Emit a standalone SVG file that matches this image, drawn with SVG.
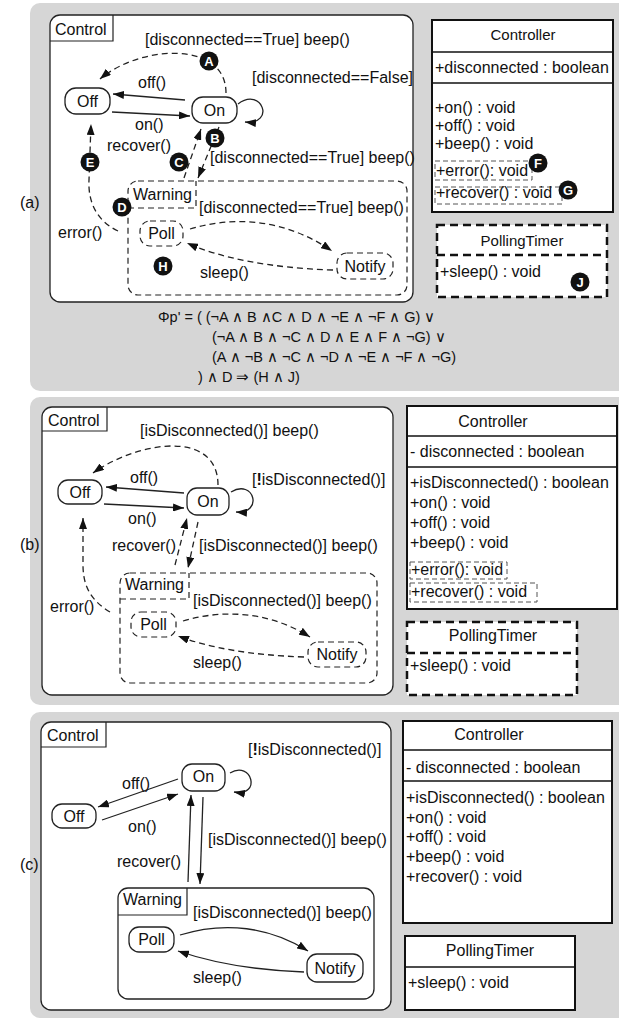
<svg xmlns="http://www.w3.org/2000/svg" width="619" height="1022" viewBox="0 0 619 1022">
<style>
.pnl{fill:#d6d6d6}
.box{fill:#fff;stroke:#222;stroke-width:1.3}
.tab{fill:none;stroke:#222;stroke-width:1.2}
.dtab{fill:none;stroke:#222;stroke-width:1.2;stroke-dasharray:6,4}
.st{fill:#fff;stroke:#222;stroke-width:1.3}
.dst{fill:#fff;stroke:#222;stroke-width:1.2;stroke-dasharray:6,4}
.cls{fill:#fff;stroke:#111;stroke-width:2}
.dcls{fill:#fff;stroke:#111;stroke-width:2.5;stroke-dasharray:8,5}
.cl{stroke:#111;stroke-width:1.5}
.dcl{stroke:#111;stroke-width:2.5;stroke-dasharray:8,5}
.mb{fill:none;stroke:#555;stroke-width:1;stroke-dasharray:5,3}
.e{fill:none;stroke:#222;stroke-width:1.3;marker-end:url(#ah)}
.de{fill:none;stroke:#222;stroke-width:1.3;stroke-dasharray:6,4;marker-end:url(#ah)}
text{font-family:"Liberation Sans",Arial,Helvetica,sans-serif;font-size:16px;fill:#111}
.m{text-anchor:middle}
.t{font-size:15px}
.f{font-size:14.5px}
.dot{fill:#111}
.lt{fill:#fff;font-weight:bold;font-size:13px;text-anchor:middle}
</style>
<defs>
<marker id="ah" markerUnits="userSpaceOnUse" markerWidth="11" markerHeight="8" refX="11" refY="4" orient="auto">
<path d="M0,0 L11,4 L0,8 z" fill="#111"/>
</marker>
</defs>

<!-- ================= PANEL (a) ================= -->
<g id="panel-a">
<rect class="pnl" x="30" y="3" width="600" height="388" rx="10"/>
<text x="20" y="208">(a)</text>
</g>
<g id="control-a">
<rect class="box" x="50" y="15" width="363" height="287" rx="10"/>
<path class="tab" d="M50,41 H113 V15"/>
<text x="55" y="35">Control</text>
</g>
<g id="warning-a">
<rect class="dst" x="128" y="181" width="279" height="114" rx="10"/>
<path class="dtab" d="M128,208 H196 V181"/>
<text x="133" y="200">Warning</text>
</g>
<g id="off-a"><rect class="st" x="65" y="88" width="45" height="26" rx="11"/><text class="m" x="87.5" y="107">Off</text></g>
<g id="on-a"><rect class="st" x="192" y="97" width="45" height="26" rx="11"/><text class="m" x="214.5" y="116">On</text></g>
<g id="poll-a"><rect class="dst" x="140" y="221" width="43" height="25" rx="10"/><text class="m" x="161.5" y="239">Poll</text></g>
<g id="notify-a"><rect class="dst" x="337" y="253" width="56" height="26" rx="10"/><text class="m" x="365" y="272">Notify</text></g>
<g id="connectors-a">
<path class="e" d="M185,100 L113,94"/>
<path class="e" d="M112,112 L190,116"/>
<path class="e" d="M238,104 C262,86 276,125 245,122"/>
<path class="de" d="M226,93 C226,40 140,45 100,79"/>
<path class="de" d="M219,127 L198,178"/>
<path class="de" d="M184,178 L201,129"/>
<path class="de" d="M118,231 C95,220 88,200 89,180 L91,124"/>
<path class="de" d="M190,229 C240,214 290,222 332,251"/>
<path class="de" d="M333,270 C270,268 220,258 187,243"/>
</g>
<g id="labels-a">
<text x="145" y="45">[disconnected==True] beep()</text>
<text x="252" y="83">[disconnected==False]</text>
<text x="138" y="88">off()</text>
<text x="135" y="130">on()</text>
<text x="107" y="151">recover()</text>
<text x="210" y="163">[disconnected==True] beep()</text>
<text x="199" y="213">[disconnected==True] beep()</text>
<text x="58" y="238">error()</text>
<text x="200" y="278">sleep()</text>
</g>
<g id="controller-a">
<rect class="cls" x="432" y="20" width="181" height="192"/>
<line class="cl" x1="432" y1="52" x2="613" y2="52"/>
<line class="cl" x1="432" y1="83" x2="613" y2="83"/>
<text class="m t" x="523" y="40">Controller</text>
<text x="435" y="73">+disconnected : boolean</text>
<text x="435" y="113">+on() : void</text>
<text x="435" y="131">+off() : void</text>
<text x="435" y="149">+beep() : void</text>
<rect class="mb" x="435" y="161" width="97" height="19"/>
<text x="436" y="176">+error(): void</text>
<rect class="mb" x="435" y="187" width="127" height="17"/>
<text x="436" y="198">+recover() : void</text>
</g>
<g id="pollingtimer-a">
<rect class="dcls" x="437" y="225" width="170" height="72"/>
<line class="dcl" x1="437" y1="255" x2="607" y2="255"/>
<text class="m t" x="522" y="246">PollingTimer</text>
<text x="440" y="277">+sleep() : void</text>
</g>
<g id="markers-a">
<circle class="dot" cx="209" cy="61" r="9.5"/><text class="lt" x="209" y="65.5">A</text>
<circle class="dot" cx="215" cy="138" r="9.5"/><text class="lt" x="215" y="142.5">B</text>
<circle class="dot" cx="179" cy="162" r="9.5"/><text class="lt" x="179" y="166.5">C</text>
<circle class="dot" cx="122" cy="207" r="9.5"/><text class="lt" x="122" y="211.5">D</text>
<circle class="dot" cx="90" cy="162" r="9.5"/><text class="lt" x="90" y="166.5">E</text>
<circle class="dot" cx="538" cy="163" r="9.5"/><text class="lt" x="538" y="167.5">F</text>
<circle class="dot" cx="568" cy="190" r="9.5"/><text class="lt" x="568" y="194.5">G</text>
<circle class="dot" cx="163" cy="266" r="9.5"/><text class="lt" x="163" y="270.5">H</text>
<circle class="dot" cx="580" cy="282" r="9.5"/><text class="lt" x="580" y="286.5">J</text>
</g>
<g id="formula-a">
<text class="f" x="158" y="322">Φp' = ( (¬A ∧ B ∧C ∧ D ∧ ¬E ∧ ¬F ∧ G) ∨</text>
<text class="f" x="212" y="342">(¬A ∧ B ∧ ¬C ∧ D ∧ E ∧ F ∧ ¬G) ∨</text>
<text class="f" x="212" y="362">(A ∧ ¬B ∧ ¬C ∧ ¬D ∧ ¬E ∧ ¬F ∧ ¬G)</text>
<text class="f" x="198" y="382">) ∧ D ⇒ (H ∧ J)</text>
</g>

<!-- ================= PANEL (b) ================= -->
<g id="panel-b">
<rect class="pnl" x="30" y="397" width="600" height="308" rx="10"/>
<text x="20" y="550">(b)</text>
</g>
<g id="control-b">
<rect class="box" x="42" y="407" width="351" height="288" rx="10"/>
<path class="tab" d="M42,431 H107 V407"/>
<text x="48" y="426">Control</text>
</g>
<g id="warning-b">
<rect class="dst" x="120" y="573" width="257" height="110" rx="10"/>
<path class="dtab" d="M120,599 H189 V573"/>
<text x="125" y="590">Warning</text>
</g>
<g id="off-b"><rect class="st" x="58" y="480" width="44" height="24" rx="10"/><text class="m" x="80" y="498">Off</text></g>
<g id="on-b"><rect class="st" x="187" y="488" width="42" height="27" rx="10"/><text class="m" x="208" y="507">On</text></g>
<g id="poll-b"><rect class="dst" x="131" y="612" width="45" height="25" rx="10"/><text class="m" x="153.5" y="630">Poll</text></g>
<g id="notify-b"><rect class="dst" x="308" y="642" width="58" height="25" rx="10"/><text class="m" x="337" y="660">Notify</text></g>
<g id="connectors-b">
<path class="e" d="M184,493 L106,487"/>
<path class="e" d="M104,504 L184,508"/>
<path class="e" d="M231,492 C254,478 264,514 236,512"/>
<path class="de" d="M218,485 C218,430 140,440 93,473"/>
<path class="de" d="M175,565 L187,518"/>
<path class="de" d="M198,522 L188,568"/>
<path class="de" d="M110,612 C90,600 83,585 83,565 L83,518"/>
<path class="de" d="M183,621 C230,607 275,615 310,637"/>
<path class="de" d="M304,657 C250,655 210,648 178,636"/>
</g>
<g id="labels-b">
<text x="140" y="436">[isDisconnected()] beep()</text>
<text x="252" y="485">[<tspan font-weight="bold">!</tspan>isDisconnected()]</text>
<text x="130" y="483">off()</text>
<text x="128" y="524">on()</text>
<text x="112" y="551">recover()</text>
<text x="199" y="551">[isDisconnected()] beep()</text>
<text x="193" y="606">[isDisconnected()] beep()</text>
<text x="50" y="612">error()</text>
<text x="193" y="668">sleep()</text>
</g>
<g id="controller-b">
<rect class="cls" x="407" y="406" width="210" height="203"/>
<line class="cl" x1="407" y1="436" x2="617" y2="436"/>
<line class="cl" x1="407" y1="467" x2="617" y2="467"/>
<text class="m" x="493" y="427">Controller</text>
<text x="410" y="457">- disconnected : boolean</text>
<text x="410" y="488">+isDisconnected() : boolean</text>
<text x="410" y="508">+on() : void</text>
<text x="410" y="528">+off() : void</text>
<text x="410" y="548">+beep() : void</text>
<rect class="mb" x="410" y="562" width="97" height="17"/>
<text x="411" y="575">+error(): void</text>
<rect class="mb" x="410" y="583" width="127" height="19"/>
<text x="411" y="597">+recover() : void</text>
</g>
<g id="pollingtimer-b">
<rect class="dcls" x="407" y="622" width="170" height="73"/>
<line class="dcl" x1="407" y1="653" x2="577" y2="653"/>
<text class="m" x="493" y="641">PollingTimer</text>
<text x="410" y="671">+sleep() : void</text>
</g>

<!-- ================= PANEL (c) ================= -->
<g id="panel-c">
<rect class="pnl" x="30" y="712" width="600" height="306" rx="10"/>
<text x="20" y="870">(c)</text>
</g>
<g id="control-c">
<rect class="box" x="41" y="722" width="350" height="288" rx="10"/>
<path class="tab" d="M41,747 H106 V722"/>
<text x="47" y="741">Control</text>
</g>
<g id="warning-c">
<rect class="box" x="118" y="888" width="256" height="111" rx="10"/>
<path class="tab" d="M118,915 H187 V888"/>
<text x="123" y="905">Warning</text>
</g>
<g id="off-c"><rect class="st" x="52" y="804" width="44" height="24" rx="10"/><text class="m" x="74" y="822">Off</text></g>
<g id="on-c"><rect class="st" x="182" y="764" width="43" height="27" rx="10"/><text class="m" x="203.5" y="782">On</text></g>
<g id="poll-c"><rect class="st" x="129" y="927" width="45" height="25" rx="10"/><text class="m" x="151.5" y="945">Poll</text></g>
<g id="notify-c"><rect class="st" x="307" y="954" width="56" height="28" rx="10"/><text class="m" x="335" y="974">Notify</text></g>
<g id="connectors-c">
<path class="e" d="M178,779 L98,807"/>
<path class="e" d="M102,820 L178,794"/>
<path class="e" d="M230,773 C252,760 262,797 234,792"/>
<path class="e" d="M188,882 L191,795"/>
<path class="e" d="M203,797 L200,884"/>
<path class="e" d="M180,935 C225,921 270,927 308,951"/>
<path class="e" d="M304,972 C250,970 210,962 178,951"/>
</g>
<g id="labels-c">
<text x="248" y="755">[<tspan font-weight="bold">!</tspan>isDisconnected()]</text>
<text x="122" y="789">off()</text>
<text x="128" y="832">on()</text>
<text x="117" y="867">recover()</text>
<text x="208" y="845">[isDisconnected()] beep()</text>
<text x="193" y="918">[isDisconnected()] beep()</text>
<text x="193" y="983">sleep()</text>
</g>
<g id="controller-c">
<rect class="cls" x="403" y="721" width="209" height="202"/>
<line class="cl" x1="403" y1="750" x2="612" y2="750"/>
<line class="cl" x1="403" y1="781" x2="612" y2="781"/>
<text class="m" x="489" y="740">Controller</text>
<text x="406" y="773">- disconnected : boolean</text>
<text x="406" y="803">+isDisconnected() : boolean</text>
<text x="406" y="823">+on() : void</text>
<text x="406" y="842">+off() : void</text>
<text x="406" y="862">+beep() : void</text>
<text x="406" y="882">+recover() : void</text>
</g>
<g id="pollingtimer-c">
<rect class="cls" x="405" y="936" width="170" height="74"/>
<line class="cl" x1="405" y1="967" x2="575" y2="967"/>
<text class="m" x="490" y="956">PollingTimer</text>
<text x="408" y="988">+sleep() : void</text>
</g>
</svg>
